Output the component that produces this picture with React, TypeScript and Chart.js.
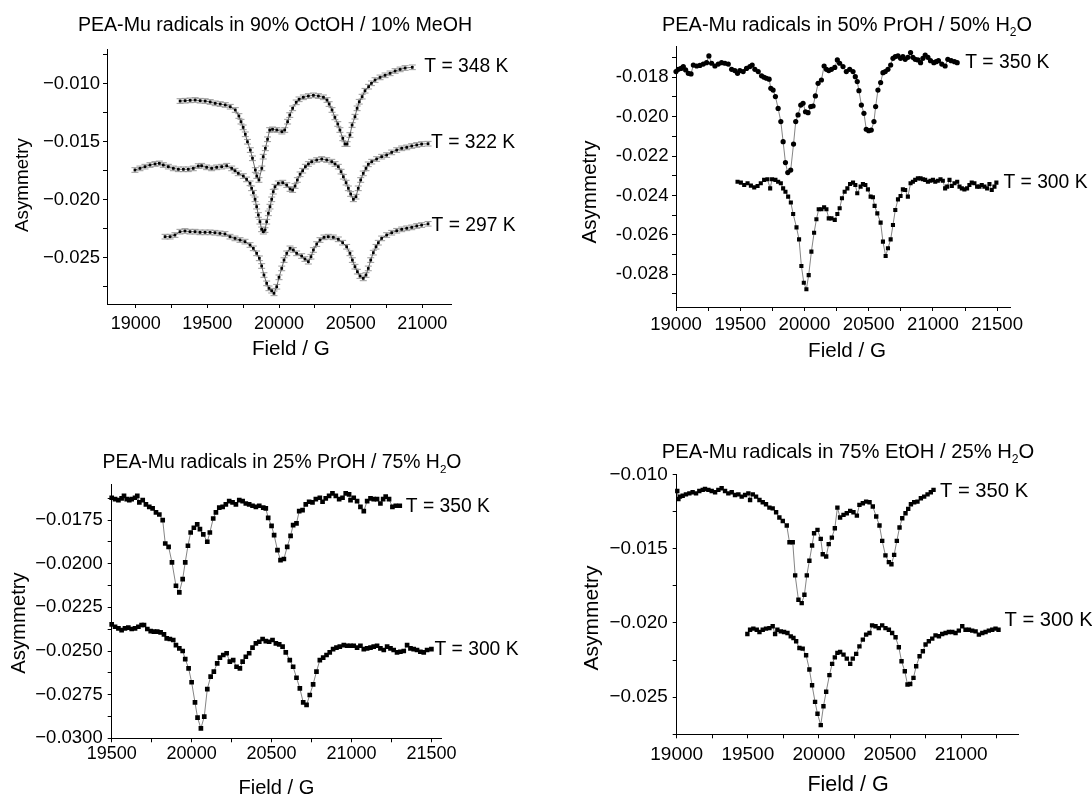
import React, { useEffect, useRef } from "react";
import { Chart, registerables } from "chart.js";

Chart.register(...registerables);

const FONT = '"Liberation Sans", Arial, Helvetica, sans-serif';

type Pt = [number, number];

// ---------- Panel 1: 90% OctOH / 10% MeOH (Field / G, Asymmetry) ----------
const OCT_348K: Pt[] = [
  [19310,-0.01149],[19345,-0.01146],[19380,-0.01143],[19415,-0.01140],[19450,-0.01146],[19485,-0.01149],[19520,-0.01157],[19555,-0.01169],[19590,-0.01175],[19625,-0.01183],[19660,-0.01198],[19695,-0.01226],[19720,-0.01278],[19735,-0.01327],[19750,-0.01376],[19765,-0.01436],[19780,-0.01500],[19800,-0.01572],[19815,-0.01643],[19835,-0.01744],[19845,-0.01796],[19860,-0.01830],[19880,-0.01730],[19890,-0.01629],[19905,-0.01557],[19920,-0.01479],[19935,-0.01399],[19955,-0.01393],[19985,-0.01399],[20020,-0.01413],[20040,-0.01399],[20060,-0.01327],[20075,-0.01270],[20095,-0.01212],[20120,-0.01160],[20140,-0.01134],[20170,-0.01117],[20205,-0.01106],[20240,-0.01100],[20275,-0.01106],[20310,-0.01117],[20335,-0.01140],[20350,-0.01175],[20370,-0.01226],[20390,-0.01290],[20410,-0.01347],[20425,-0.01399],[20445,-0.01471],[20460,-0.01520],[20475,-0.01520],[20495,-0.01442],[20510,-0.01356],[20530,-0.01284],[20545,-0.01212],[20560,-0.01155],[20580,-0.01111],[20600,-0.01060],[20625,-0.01025],[20645,-0.00996],[20670,-0.00968],[20705,-0.00945],[20740,-0.00927],[20775,-0.00910],[20810,-0.00890],[20845,-0.00876],[20880,-0.00864],[20930,-0.00858]
];
const OCT_322K: Pt[] = [
  [18995,-0.01744],[19030,-0.01730],[19065,-0.01715],[19100,-0.01701],[19135,-0.01692],[19165,-0.01687],[19193,-0.01701],[19228,-0.01715],[19263,-0.01730],[19298,-0.01738],[19333,-0.01738],[19367,-0.01738],[19402,-0.01730],[19437,-0.01710],[19460,-0.01707],[19495,-0.01721],[19530,-0.01730],[19565,-0.01721],[19600,-0.01715],[19635,-0.01707],[19670,-0.01730],[19693,-0.01750],[19716,-0.01773],[19751,-0.01796],[19774,-0.01825],[19798,-0.01859],[19809,-0.01902],[19821,-0.01940],[19833,-0.01997],[19844,-0.02060],[19856,-0.02132],[19867,-0.02190],[19879,-0.02256],[19891,-0.02276],[19902,-0.02262],[19914,-0.02190],[19926,-0.02118],[19937,-0.02060],[19949,-0.01997],[19960,-0.01931],[19972,-0.01888],[19995,-0.01859],[20026,-0.01853],[20054,-0.01874],[20077,-0.01908],[20095,-0.01917],[20112,-0.01882],[20128,-0.01830],[20147,-0.01781],[20165,-0.01750],[20184,-0.01715],[20205,-0.01692],[20228,-0.01672],[20263,-0.01658],[20298,-0.01649],[20333,-0.01658],[20368,-0.01672],[20391,-0.01692],[20414,-0.01715],[20433,-0.01758],[20449,-0.01802],[20468,-0.01853],[20484,-0.01902],[20500,-0.01951],[20519,-0.01997],[20537,-0.01974],[20553,-0.01902],[20570,-0.01830],[20588,-0.01773],[20607,-0.01730],[20623,-0.01695],[20647,-0.01672],[20681,-0.01649],[20716,-0.01629],[20751,-0.01615],[20786,-0.01592],[20821,-0.01572],[20856,-0.01557],[20891,-0.01549],[20926,-0.01537],[20961,-0.01528],[20995,-0.01520],[21040,-0.01517]
];
const OCT_297K: Pt[] = [
  [19205,-0.02319],[19240,-0.02319],[19274,-0.02305],[19309,-0.02276],[19344,-0.02270],[19379,-0.02276],[19414,-0.02276],[19449,-0.02282],[19484,-0.02282],[19519,-0.02282],[19553,-0.02285],[19588,-0.02291],[19623,-0.02296],[19658,-0.02319],[19693,-0.02334],[19728,-0.02348],[19763,-0.02362],[19798,-0.02391],[19821,-0.02420],[19844,-0.02463],[19863,-0.02506],[19879,-0.02572],[19895,-0.02650],[19914,-0.02722],[19930,-0.02765],[19949,-0.02785],[19965,-0.02808],[19984,-0.02751],[20000,-0.02670],[20019,-0.02593],[20035,-0.02521],[20054,-0.02463],[20077,-0.02420],[20100,-0.02434],[20123,-0.02463],[20158,-0.02486],[20181,-0.02512],[20205,-0.02535],[20223,-0.02492],[20240,-0.02434],[20263,-0.02383],[20286,-0.02348],[20314,-0.02325],[20344,-0.02319],[20379,-0.02325],[20414,-0.02342],[20444,-0.02371],[20472,-0.02406],[20495,-0.02463],[20512,-0.02521],[20530,-0.02578],[20547,-0.02621],[20565,-0.02659],[20588,-0.02679],[20607,-0.02650],[20623,-0.02593],[20640,-0.02521],[20658,-0.02457],[20677,-0.02406],[20693,-0.02371],[20716,-0.02334],[20751,-0.02305],[20786,-0.02285],[20821,-0.02268],[20856,-0.02256],[20891,-0.02247],[20926,-0.02239],[20961,-0.02227],[20995,-0.02219],[21040,-0.02208]
];
const OCT_ERR = 0.0002;

// ---------- Panel 2: 50% PrOH / 50% H2O ----------
const PROH50_350K: Pt[] = [
  [19000,-0.01771],[19018,-0.01760],[19039,-0.01755],[19057,-0.01746],[19075,-0.01763],[19096,-0.01780],[19117,-0.01783],[19135,-0.01738],[19161,-0.01743],[19186,-0.01740],[19212,-0.01733],[19238,-0.01726],[19256,-0.01692],[19277,-0.01729],[19303,-0.01743],[19329,-0.01733],[19355,-0.01726],[19381,-0.01729],[19407,-0.01733],[19433,-0.01760],[19458,-0.01766],[19479,-0.01780],[19497,-0.01766],[19523,-0.01771],[19549,-0.01755],[19575,-0.01746],[19593,-0.01738],[19614,-0.01760],[19640,-0.01771],[19666,-0.01793],[19686,-0.01800],[19704,-0.01805],[19725,-0.01810],[19738,-0.01856],[19756,-0.01865],[19774,-0.01898],[19795,-0.01958],[19816,-0.02025],[19834,-0.02127],[19852,-0.02233],[19870,-0.02284],[19893,-0.02271],[19915,-0.02139],[19932,-0.02025],[19950,-0.01991],[19971,-0.01941],[19989,-0.01932],[20008,-0.01975],[20028,-0.01980],[20049,-0.01949],[20067,-0.01946],[20085,-0.01895],[20106,-0.01831],[20132,-0.01814],[20153,-0.01743],[20171,-0.01760],[20189,-0.01766],[20210,-0.01760],[20236,-0.01750],[20256,-0.01712],[20274,-0.01729],[20300,-0.01746],[20326,-0.01771],[20352,-0.01760],[20378,-0.01771],[20396,-0.01797],[20411,-0.01822],[20424,-0.01868],[20443,-0.01941],[20463,-0.01983],[20481,-0.02064],[20500,-0.02071],[20520,-0.02068],[20541,-0.02025],[20554,-0.01949],[20572,-0.01865],[20593,-0.01827],[20611,-0.01777],[20629,-0.01771],[20650,-0.01760],[20671,-0.01738],[20689,-0.01704],[20707,-0.01695],[20728,-0.01692],[20748,-0.01704],[20766,-0.01695],[20784,-0.01709],[20805,-0.01699],[20826,-0.01675],[20844,-0.01699],[20862,-0.01709],[20883,-0.01712],[20904,-0.01726],[20922,-0.01704],[20940,-0.01687],[20961,-0.01699],[20981,-0.01716],[21007,-0.01726],[21025,-0.01721],[21043,-0.01716],[21069,-0.01733],[21095,-0.01743],[21116,-0.01709],[21142,-0.01716],[21168,-0.01721],[21189,-0.01726]
];
const PROH50_300K: Pt[] = [
  [19479,-0.02330],[19505,-0.02335],[19531,-0.02347],[19557,-0.02338],[19583,-0.02350],[19609,-0.02359],[19635,-0.02352],[19660,-0.02338],[19686,-0.02321],[19712,-0.02318],[19733,-0.02364],[19748,-0.02318],[19774,-0.02321],[19795,-0.02330],[19816,-0.02338],[19834,-0.02364],[19852,-0.02381],[19873,-0.02406],[19894,-0.02436],[19912,-0.02494],[19938,-0.02562],[19958,-0.02623],[19976,-0.02758],[19995,-0.02843],[20015,-0.02876],[20033,-0.02804],[20054,-0.02685],[20075,-0.02589],[20093,-0.02521],[20111,-0.02470],[20132,-0.02470],[20153,-0.02460],[20171,-0.02470],[20189,-0.02516],[20210,-0.02516],[20236,-0.02524],[20256,-0.02494],[20274,-0.02465],[20292,-0.02414],[20313,-0.02381],[20334,-0.02364],[20355,-0.02342],[20378,-0.02335],[20396,-0.02347],[20411,-0.02389],[20437,-0.02355],[20455,-0.02342],[20474,-0.02347],[20494,-0.02369],[20515,-0.02406],[20533,-0.02409],[20546,-0.02453],[20567,-0.02491],[20593,-0.02538],[20611,-0.02634],[20632,-0.02707],[20650,-0.02668],[20671,-0.02623],[20689,-0.02550],[20707,-0.02474],[20728,-0.02420],[20748,-0.02403],[20766,-0.02369],[20784,-0.02372],[20805,-0.02406],[20826,-0.02338],[20844,-0.02330],[20862,-0.02321],[20883,-0.02313],[20904,-0.02313],[20922,-0.02318],[20940,-0.02321],[20961,-0.02330],[20981,-0.02325],[21000,-0.02321],[21018,-0.02330],[21038,-0.02325],[21059,-0.02318],[21077,-0.02325],[21095,-0.02364],[21111,-0.02355],[21129,-0.02321],[21147,-0.02352],[21168,-0.02338],[21189,-0.02330],[21207,-0.02355],[21225,-0.02364],[21245,-0.02369],[21266,-0.02364],[21284,-0.02347],[21302,-0.02335],[21323,-0.02338],[21344,-0.02355],[21362,-0.02355],[21380,-0.02347],[21401,-0.02355],[21422,-0.02364],[21440,-0.02342],[21458,-0.02372],[21479,-0.02355],[21494,-0.02335]
];

// ---------- Panel 3: 25% PrOH / 75% H2O ----------
const PROH25_350K: Pt[] = [
  [19500,-0.01622],[19521,-0.01630],[19542,-0.01636],[19562,-0.01626],[19577,-0.01611],[19594,-0.01630],[19610,-0.01636],[19625,-0.01630],[19646,-0.01622],[19660,-0.01611],[19673,-0.01649],[19694,-0.01636],[19714,-0.01660],[19735,-0.01674],[19756,-0.01683],[19777,-0.01706],[19798,-0.01718],[19819,-0.01750],[19835,-0.01884],[19856,-0.01903],[19877,-0.01992],[19902,-0.02126],[19923,-0.02164],[19944,-0.02088],[19960,-0.01992],[19977,-0.01897],[19994,-0.01821],[20014,-0.01794],[20035,-0.01775],[20052,-0.01802],[20073,-0.01832],[20098,-0.01874],[20114,-0.01821],[20135,-0.01741],[20152,-0.01706],[20173,-0.01679],[20194,-0.01674],[20214,-0.01660],[20235,-0.01641],[20256,-0.01649],[20277,-0.01660],[20298,-0.01636],[20319,-0.01641],[20339,-0.01655],[20360,-0.01660],[20381,-0.01668],[20402,-0.01674],[20423,-0.01668],[20448,-0.01679],[20464,-0.01683],[20479,-0.01737],[20500,-0.01783],[20516,-0.01836],[20537,-0.01922],[20556,-0.01979],[20577,-0.01973],[20598,-0.01903],[20619,-0.01840],[20635,-0.01779],[20656,-0.01769],[20673,-0.01699],[20694,-0.01693],[20714,-0.01660],[20735,-0.01645],[20756,-0.01649],[20777,-0.01630],[20802,-0.01622],[20819,-0.01645],[20839,-0.01626],[20860,-0.01611],[20881,-0.01597],[20902,-0.01611],[20923,-0.01630],[20944,-0.01622],[20964,-0.01597],[20985,-0.01603],[20994,-0.01636],[21014,-0.01622],[21035,-0.01641],[21056,-0.01674],[21077,-0.01699],[21098,-0.01641],[21119,-0.01626],[21139,-0.01630],[21160,-0.01630],[21181,-0.01655],[21198,-0.01630],[21214,-0.01616],[21235,-0.01630],[21256,-0.01674],[21277,-0.01668],[21302,-0.01668]
];
const PROH25_300K: Pt[] = [
  [19500,-0.02347],[19521,-0.02361],[19542,-0.02370],[19562,-0.02380],[19583,-0.02370],[19604,-0.02366],[19625,-0.02374],[19646,-0.02370],[19667,-0.02361],[19687,-0.02351],[19702,-0.02351],[19723,-0.02374],[19744,-0.02386],[19764,-0.02389],[19785,-0.02389],[19806,-0.02393],[19827,-0.02405],[19844,-0.02428],[19864,-0.02431],[19885,-0.02437],[19902,-0.02466],[19923,-0.02485],[19944,-0.02500],[19960,-0.02546],[19981,-0.02599],[20000,-0.02679],[20021,-0.02794],[20037,-0.02882],[20058,-0.02943],[20079,-0.02876],[20098,-0.02718],[20119,-0.02647],[20139,-0.02618],[20160,-0.02571],[20177,-0.02538],[20198,-0.02523],[20219,-0.02513],[20239,-0.02561],[20260,-0.02552],[20281,-0.02590],[20302,-0.02599],[20319,-0.02561],[20339,-0.02533],[20360,-0.02513],[20381,-0.02481],[20402,-0.02456],[20423,-0.02447],[20444,-0.02431],[20464,-0.02443],[20485,-0.02447],[20506,-0.02437],[20527,-0.02456],[20548,-0.02462],[20569,-0.02475],[20589,-0.02508],[20614,-0.02552],[20635,-0.02590],[20656,-0.02653],[20677,-0.02714],[20698,-0.02794],[20719,-0.02809],[20739,-0.02752],[20760,-0.02691],[20781,-0.02618],[20802,-0.02552],[20823,-0.02538],[20844,-0.02523],[20864,-0.02508],[20885,-0.02489],[20906,-0.02481],[20927,-0.02475],[20952,-0.02466],[20973,-0.02470],[20994,-0.02470],[21014,-0.02470],[21035,-0.02481],[21056,-0.02470],[21077,-0.02489],[21098,-0.02485],[21119,-0.02481],[21139,-0.02475],[21160,-0.02470],[21181,-0.02485],[21202,-0.02494],[21223,-0.02475],[21244,-0.02485],[21264,-0.02494],[21285,-0.02508],[21306,-0.02504],[21327,-0.02500],[21348,-0.02466],[21369,-0.02485],[21389,-0.02489],[21410,-0.02494],[21431,-0.02504],[21452,-0.02508],[21473,-0.02494],[21500,-0.02489]
];

// ---------- Panel 4: 75% EtOH / 25% H2O ----------
const ETOH_350K: Pt[] = [
  [19004,-0.01112],[19012,-0.01166],[19023,-0.01150],[19042,-0.01144],[19065,-0.01135],[19089,-0.01128],[19112,-0.01121],[19136,-0.01128],[19159,-0.01112],[19183,-0.01105],[19199,-0.01099],[19223,-0.01105],[19246,-0.01112],[19270,-0.01121],[19293,-0.01105],[19316,-0.01094],[19340,-0.01112],[19363,-0.01128],[19387,-0.01121],[19410,-0.01139],[19434,-0.01135],[19457,-0.01150],[19481,-0.01139],[19504,-0.01128],[19516,-0.01173],[19535,-0.01135],[19558,-0.01150],[19582,-0.01173],[19605,-0.01188],[19628,-0.01202],[19652,-0.01224],[19675,-0.01229],[19699,-0.01255],[19722,-0.01291],[19746,-0.01314],[19774,-0.01345],[19793,-0.01457],[19816,-0.01457],[19833,-0.01680],[19856,-0.01844],[19879,-0.01867],[19898,-0.01811],[19915,-0.01680],[19933,-0.01582],[19952,-0.01479],[19966,-0.01397],[19990,-0.01374],[20013,-0.01435],[20027,-0.01538],[20051,-0.01553],[20069,-0.01470],[20091,-0.01426],[20112,-0.01363],[20130,-0.01224],[20149,-0.01291],[20173,-0.01273],[20196,-0.01262],[20220,-0.01246],[20243,-0.01255],[20267,-0.01278],[20285,-0.01206],[20309,-0.01195],[20332,-0.01184],[20356,-0.01188],[20379,-0.01217],[20403,-0.01284],[20426,-0.01345],[20445,-0.01448],[20468,-0.01546],[20492,-0.01591],[20510,-0.01605],[20529,-0.01542],[20548,-0.01448],[20567,-0.01358],[20586,-0.01296],[20609,-0.01262],[20628,-0.01233],[20647,-0.01202],[20670,-0.01188],[20693,-0.01184],[20717,-0.01161],[20740,-0.01150],[20764,-0.01135],[20787,-0.01121],[20806,-0.01105]
];
const ETOH_300K: Pt[] = [
  [19497,-0.02075],[19516,-0.02046],[19539,-0.02039],[19563,-0.02046],[19582,-0.02061],[19605,-0.02046],[19628,-0.02039],[19652,-0.02035],[19675,-0.02023],[19692,-0.02075],[19708,-0.02046],[19732,-0.02057],[19755,-0.02061],[19779,-0.02068],[19802,-0.02091],[19821,-0.02102],[19840,-0.02124],[19863,-0.02169],[19886,-0.02173],[19910,-0.02218],[19933,-0.02314],[19952,-0.02420],[19973,-0.02532],[19990,-0.02612],[20013,-0.02688],[20032,-0.02561],[20051,-0.02464],[20074,-0.02352],[20093,-0.02276],[20112,-0.02232],[20130,-0.02202],[20149,-0.02196],[20173,-0.02214],[20196,-0.02241],[20220,-0.02276],[20238,-0.02241],[20262,-0.02209],[20285,-0.02158],[20309,-0.02113],[20332,-0.02079],[20356,-0.02068],[20374,-0.02017],[20398,-0.02023],[20421,-0.02035],[20445,-0.02017],[20468,-0.02035],[20492,-0.02046],[20515,-0.02068],[20539,-0.02097],[20562,-0.02164],[20581,-0.02258],[20604,-0.02326],[20623,-0.02415],[20642,-0.02411],[20665,-0.02370],[20684,-0.02292],[20708,-0.02225],[20731,-0.02191],[20750,-0.02146],[20773,-0.02124],[20797,-0.02106],[20820,-0.02084],[20844,-0.02090],[20867,-0.02075],[20891,-0.02068],[20914,-0.02061],[20938,-0.02061],[20961,-0.02068],[20984,-0.02052],[21008,-0.02023],[21031,-0.02046],[21055,-0.02046],[21078,-0.02052],[21102,-0.02057],[21125,-0.02079],[21149,-0.02068],[21172,-0.02061],[21195,-0.02052],[21219,-0.02046],[21242,-0.02039],[21263,-0.02046]
];

// ---------- text ----------
const TITLE_P1 = ["PEA-Mu radicals in 90% OctOH / 10% MeOH", "", ""];
const TITLE_P2 = ["PEA-Mu radicals in 50% PrOH / 50% H", "2", "O"];
const TITLE_P3 = ["PEA-Mu radicals in 25% PrOH / 75% H", "2", "O"];
const TITLE_P4 = ["PEA-Mu radicals in 75% EtOH / 25% H", "2", "O"];
const X_TITLE = "Field / G";
const Y_TITLE = "Asymmetry";

// ---------- plugins ----------
const errorBarPlugin = {
  id: "errorBars",
  beforeDatasetsDraw(chart: any, _args: any, opts: any) {
    const errs: number[] = (opts && opts.errors) || [];
    const ys = chart.scales.y;
    const ctx = chart.ctx;
    chart.data.datasets.forEach((ds: any, i: number) => {
      const err = errs[i];
      if (!err) return;
      const meta = chart.getDatasetMeta(i);
      ctx.save();
      ctx.strokeStyle = opts.color || "#999";
      ctx.lineWidth = 1;
      const cap = opts.cap || 3.5;
      meta.data.forEach((el: any, j: number) => {
        const v = ds.data[j].y;
        const y1 = ys.getPixelForValue(v + err);
        const y2 = ys.getPixelForValue(v - err);
        const x = el.x;
        ctx.beginPath();
        ctx.moveTo(x, y1); ctx.lineTo(x, y2);
        ctx.moveTo(x - cap, y1); ctx.lineTo(x + cap, y1);
        ctx.moveTo(x - cap, y2); ctx.lineTo(x + cap, y2);
        ctx.stroke();
      });
      ctx.restore();
    });
  },
};

const endLabelPlugin = {
  id: "endLabels",
  afterDatasetsDraw(chart: any, _args: any, opts: any) {
    const items = (opts && opts.items) || [];
    const ctx = chart.ctx;
    ctx.save();
    ctx.font = `${opts.size}px ${FONT}`;
    ctx.fillStyle = "#000";
    ctx.textAlign = "left";
    ctx.textBaseline = "middle";
    items.forEach((it: any, i: number) => {
      const meta = chart.getDatasetMeta(i);
      const el = meta.data[meta.data.length - 1];
      if (!el || !it) return;
      ctx.fillText(it.text, el.x + it.dx, el.y + it.dy);
    });
    ctx.restore();
  },
};

// ---------- panel configuration (layout / style) ----------
type Series = { data: Pt[]; label: string; marker: string; radius: number; dx: number; dy: number; err?: number };
type PanelCfg = {
  box: { left: number; top: number; width: number; height: number };
  area: { left: number; top: number; right: number; bottom: number };
  x: { min: number; max: number; major: number; minor: number; font: number; pad: number };
  y: { min: number; max: number; major: number; minor: number; dec: number; font: number; pad: number; minus: string };
  labelSize: number;
  lineColor: string;
  series: Series[];
};

const PANEL1: PanelCfg = {
  box: { left: 0, top: 0, width: 546, height: 398 },
  area: { left: 107, top: 49, right: 451, bottom: 304 },
  x: { min: 18800, max: 21200, major: 500, minor: 250, font: 18, pad: 5.5 },
  y: { min: -0.029, max: -0.007, major: 0.005, minor: 0.0025, dec: 3, font: 18.5, pad: 3, minus: "\u2212" },
  labelSize: 19.3,
  lineColor: "#444",
  series: [
    { data: OCT_348K, label: "T = 348 K", marker: "rect", radius: 1.9, dx: 12, dy: -1, err: OCT_ERR },
    { data: OCT_322K, label: "T = 322 K", marker: "rect", radius: 1.9, dx: 3, dy: -1, err: OCT_ERR },
    { data: OCT_297K, label: "T = 297 K", marker: "rect", radius: 1.9, dx: 3.5, dy: 2, err: OCT_ERR },
  ],
};

const PANEL2: PanelCfg = {
  box: { left: 546, top: 0, width: 546, height: 398 },
  area: { left: 676, top: 46.7, right: 1010, bottom: 307 },
  x: { min: 19000, max: 21600, major: 500, minor: 250, font: 18.6, pad: 3 },
  y: { min: -0.02966, max: -0.01645, major: 0.002, minor: 0.001, dec: 3, font: 18.6, pad: 3.5, minus: "-" },
  labelSize: 19.3,
  lineColor: "#666",
  series: [
    { data: PROH50_350K, label: "T = 350 K", marker: "circle", radius: 2.6, dx: 8, dy: 0.5 },
    { data: PROH50_300K, label: "T = 300 K", marker: "rect", radius: 2.9, dx: 7, dy: 0.5 },
  ],
};

const PANEL3: PanelCfg = {
  box: { left: 0, top: 398, width: 546, height: 398 },
  area: { left: 111.7, top: 484.3, right: 441, bottom: 738.3 },
  x: { min: 19500, max: 21560, major: 500, minor: 250, font: 18, pad: 0.5 },
  y: { min: -0.03, max: -0.01545, major: 0.0025, minor: 0.00125, dec: 4, font: 18.5, pad: 5, minus: "\u2212" },
  labelSize: 19.3,
  lineColor: "#666",
  series: [
    { data: PROH25_350K, label: "T = 350 K", marker: "rect", radius: 3.3, dx: 6, dy: 0.5 },
    { data: PROH25_300K, label: "T = 300 K", marker: "rect", radius: 3.3, dx: 3, dy: 1 },
  ],
};

const PANEL4: PanelCfg = {
  box: { left: 546, top: 398, width: 546, height: 398 },
  area: { left: 676.7, top: 474.3, right: 1018, bottom: 734.3 },
  x: { min: 19000, max: 21400, major: 500, minor: 250, font: 19, pad: 5 },
  y: { min: -0.0275, max: -0.01, major: 0.005, minor: 0.0025, dec: 3, font: 18.9, pad: 5, minus: "\u2212" },
  labelSize: 20.2,
  lineColor: "#666",
  series: [
    { data: ETOH_350K, label: "T = 350 K", marker: "rect", radius: 3.1, dx: 6.5, dy: 1.5 },
    { data: ETOH_300K, label: "T = 300 K", marker: "rect", radius: 3.1, dx: 6, dy: -9 },
  ],
};

const isMajor = (v: number, major: number) => {
  const r = v / major;
  return Math.abs(r - Math.round(r)) < 1e-6;
};

// tick positions at every minor step inside [min, max]
const minorTicks = (min: number, max: number, step: number) => {
  const out: { value: number }[] = [];
  const k0 = Math.ceil(min / step - 1e-9);
  const k1 = Math.floor(max / step + 1e-9);
  for (let k = k0; k <= k1; k++) out.push({ value: Number((k * step).toFixed(10)) });
  return out;
};

function Panel({ cfg }: { cfg: PanelCfg }) {
  const ref = useRef<HTMLCanvasElement | null>(null);
  useEffect(() => {
    const canvas = ref.current;
    if (!canvas) return;
    const { box, area } = cfg;
    const chart = new Chart(canvas, {
      type: "scatter",
      data: {
        datasets: cfg.series.map((s) => ({
          label: s.label,
          data: s.data.map(([x, y]) => ({ x, y })),
          showLine: true,
          borderColor: cfg.lineColor,
          borderWidth: 0.8,
          tension: 0,
          pointStyle: s.marker as any,
          pointRadius: s.radius,
          pointHoverRadius: s.radius,
          pointBackgroundColor: "#000",
          pointBorderColor: "#000",
          pointBorderWidth: 0,
          clip: 8,
        })),
      },
      options: {
        animation: false,
        responsive: false,
        maintainAspectRatio: false,
        events: [],
        layout: {
          padding: {
            left: 0,
            top: area.top - box.top,
            right: box.left + box.width - area.right,
            bottom: 0,
          },
        },
        plugins: {
          legend: { display: false },
          tooltip: { enabled: false },
          title: { display: false },
          errorBars: { errors: cfg.series.map((s) => s.err || 0), color: "#9a9a9a", cap: 3.5 },
          endLabels: {
            size: cfg.labelSize,
            items: cfg.series.map((s) => ({ text: s.label, dx: s.dx, dy: s.dy })),
          },
        } as any,
        scales: {
          x: {
            type: "linear",
            position: "bottom",
            min: cfg.x.min,
            max: cfg.x.max,
            afterFit: (s: any) => {
              s.height = box.top + box.height - area.bottom;
            },
            afterBuildTicks: (s: any) => {
              s.ticks = minorTicks(cfg.x.min, cfg.x.max, cfg.x.minor);
            },
            ticks: {
              autoSkip: false,
              maxRotation: 0,
              minRotation: 0,
              padding: cfg.x.pad,
              color: "#000",
              font: { family: FONT, size: cfg.x.font },
              callback: (v: any) => (isMajor(Number(v), cfg.x.major) ? String(Math.round(Number(v))) : ""),
            },
            grid: { display: true, drawOnChartArea: false, drawTicks: true, tickLength: 4, color: "#000", lineWidth: 1 },
            border: { display: true, color: "#000", width: 1 },
          },
          y: {
            type: "linear",
            position: "left",
            min: cfg.y.min,
            max: cfg.y.max,
            afterFit: (s: any) => {
              s.width = area.left - box.left;
            },
            afterBuildTicks: (s: any) => {
              s.ticks = minorTicks(cfg.y.min, cfg.y.max, cfg.y.minor);
            },
            ticks: {
              autoSkip: false,
              padding: cfg.y.pad,
              color: "#000",
              font: { family: FONT, size: cfg.y.font },
              callback: (v: any) => {
                const n = Number(v);
                if (!isMajor(n, cfg.y.major)) return "";
                const t = n.toFixed(cfg.y.dec);
                return t.replace("-", cfg.y.minus);
              },
            },
            grid: { display: true, drawOnChartArea: false, drawTicks: true, tickLength: 4, color: "#000", lineWidth: 1 },
            border: { display: true, color: "#000", width: 1 },
          },
        },
      } as any,
      plugins: [errorBarPlugin as any, endLabelPlugin as any],
    });
    return () => chart.destroy();
  }, [cfg]);
  const { box } = cfg;
  return (
    <canvas
      ref={ref}
      width={box.width}
      height={box.height}
      style={{ position: "absolute", left: box.left, top: box.top, width: box.width, height: box.height }}
    />
  );
}

function Txt({ x, y, size, rotate, children }: { x: number; y: number; size: number; rotate?: boolean; children: React.ReactNode }) {
  return (
    <div
      style={{
        position: "absolute",
        left: x,
        top: y,
        transform: rotate ? "translate(-50%, -50%) rotate(-90deg)" : "translate(-50%, -50%)",
        fontFamily: FONT,
        fontSize: size,
        lineHeight: 1,
        whiteSpace: "nowrap",
        color: "#000",
      }}
    >
      {children}
    </div>
  );
}

function Title({ parts, x, y, size }: { parts: string[]; x: number; y: number; size: number }) {
  return (
    <Txt x={x} y={y} size={size}>
      {parts[0]}
      {parts[1] ? (
        <span style={{ fontSize: "0.6em", position: "relative", top: "0.45em", lineHeight: 0 }}>{parts[1]}</span>
      ) : null}
      {parts[2]}
    </Txt>
  );
}

export default function App() {
  return (
    <div style={{ position: "absolute", left: 0, top: 0, width: 1092, height: 796, background: "#fff", overflow: "hidden" }}>
      <Panel cfg={PANEL1} />
      <Panel cfg={PANEL2} />
      <Panel cfg={PANEL3} />
      <Panel cfg={PANEL4} />

      <Title parts={TITLE_P1} x={275} y={25} size={19.6} />
      <Title parts={TITLE_P2} x={847} y={24} size={20} />
      <Title parts={TITLE_P3} x={282} y={462} size={19.4} />
      <Title parts={TITLE_P4} x={848} y={450.5} size={20.2} />

      <Txt x={21.7} y={185} size={18.8} rotate>{Y_TITLE}</Txt>
      <Txt x={589.4} y={191.7} size={20.6} rotate>{Y_TITLE}</Txt>
      <Txt x={17.5} y={623} size={20.3} rotate>{Y_TITLE}</Txt>
      <Txt x={589.6} y={618} size={21} rotate>{Y_TITLE}</Txt>

      <Txt x={290.8} y={348} size={20.6}>{X_TITLE}</Txt>
      <Txt x={847} y={350} size={20.6}>{X_TITLE}</Txt>
      <Txt x={276.4} y={786.7} size={20.1}>{X_TITLE}</Txt>
      <Txt x={848} y={785} size={21.5}>{X_TITLE}</Txt>
    </div>
  );
}
